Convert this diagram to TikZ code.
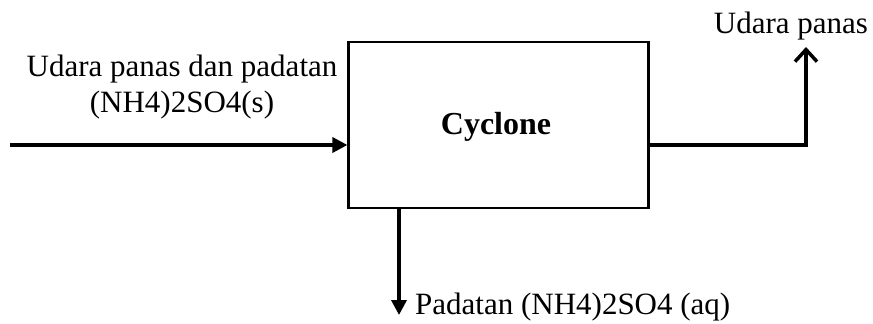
\documentclass[tikz,border=0pt]{standalone}
\usepackage{fontspec}
\setmainfont{Liberation Serif}
\usetikzlibrary{positioning, calc, arrows.meta}

\begin{document}
\begin{tikzpicture}[x=1pt, y=1pt]
			\tikzstyle{every node}+=[inner sep=0pt, font=\fontsize{31}{36}\selectfont]
			\tikzstyle{flow}=[line width=3.5pt]
			\useasboundingbox (0,0) rectangle (873,-324);
			\node [draw, line width=2.2pt, minimum width=300, minimum height=166] (cyc) at (498.5,-125) {};
			\node (cyclbl) at (496,-127) {\fontsize{32}{36}\selectfont\textbf{Cyclone}};
			\coordinate (feed) at (10,-145);
			\coordinate (top) at (806,-47);
			\coordinate (bot) at (399,-315);
			\draw [flow, -{Triangle[length=15pt, width=15pt]}] (feed) -- (cyc.west |- feed);
			\draw [flow, -{Straight Barb[length=12pt, width=22pt]}] (cyc.east |- feed) -| (top);
			\draw [flow, -{Triangle[length=15pt, width=15pt]}] (cyc.south -| bot) -- (bot);
			\node [align=center] (feedlbl) at (182,-87) {Udara panas dan padatan\\(NH4)2SO4(s)};
			\node (toplbl) at (791,-26) {Udara panas};
			\node [anchor=west] (botlbl) at (415,-307) {Padatan (NH4)2SO4 (aq)};
\end{tikzpicture}
\end{document}
